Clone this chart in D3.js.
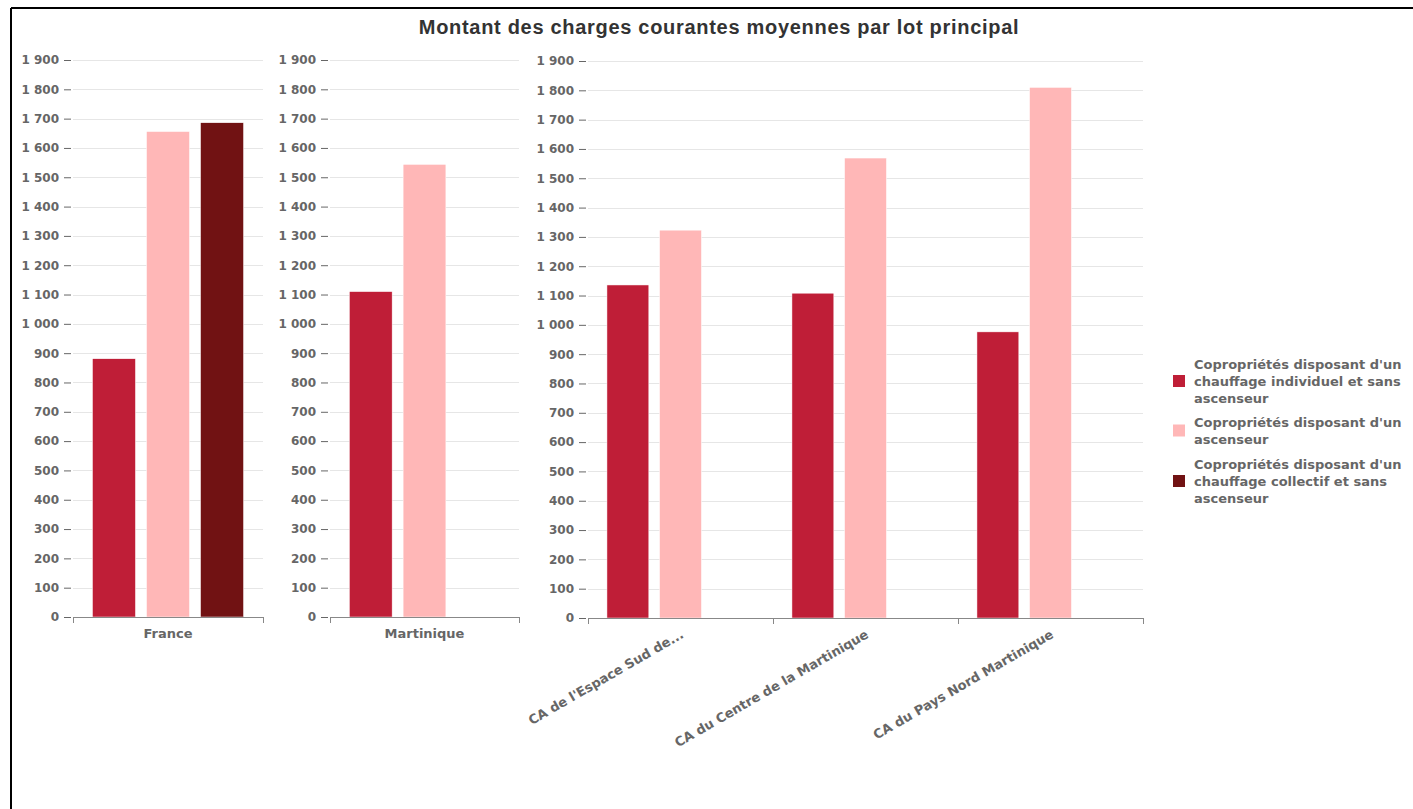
<!DOCTYPE html>
<html><head><meta charset="utf-8">
<script src="https://cdn.jsdelivr.net/npm/d3@7"></script>
<style>
html,body{margin:0;padding:0;background:#fff;}
svg{display:block;font-family:"Liberation Sans",Arial,sans-serif;}
</style></head><body>
<svg id="c" width="1413" height="809"></svg>
<script>
const title = "Montant des charges courantes moyennes par lot principal";
const seriesNames = [
  "Copropriétés disposant d'un chauffage individuel et sans ascenseur",
  "Copropriétés disposant d'un ascenseur",
  "Copropriétés disposant d'un chauffage collectif et sans ascenseur"
];
const seriesColors = ["#bf1e37", "#ffb7b7", "#711213"];
const legendLines = [
  ["Copropriétés disposant d'un", "chauffage individuel et sans", "ascenseur"],
  ["Copropriétés disposant d'un", "ascenseur"],
  ["Copropriétés disposant d'un", "chauffage collectif et sans", "ascenseur"]
];
const panel1Categories = ["France"];
const panel1Values = [[881], [1656], [1686]];
const panel2Categories = ["Martinique"];
const panel2Values = [[1110], [1544], [null]];
const panel3Categories = ["CA de l'Espace Sud de...", "CA du Centre de la Martinique", "CA du Pays Nord Martinique"];
const panel3Values = [[1136, 1108, 976], [1323, 1569, 1810], [null, null, null]];
const yTicks = [0,100,200,300,400,500,600,700,800,900,1000,1100,1200,1300,1400,1500,1600,1700,1800,1900];

const LABEL_FONT = "'DejaVu Sans',Verdana,sans-serif";
const svg = d3.select("#c");
const fmt = v => d3.format(",")(v).replace(/,/g, " ");

svg.append("line").attr("x1",11).attr("x2",1413).attr("y1",8).attr("y2",8).attr("stroke","#000").attr("stroke-width",2);
svg.append("line").attr("x1",11).attr("x2",11).attr("y1",8).attr("y2",809).attr("stroke","#000").attr("stroke-width",2);

svg.append("text").attr("x",719).attr("y",34).attr("text-anchor","middle")
  .attr("font-size",20).attr("letter-spacing",0.7).attr("font-weight","bold").attr("fill","#333").text(title);

const panels = [
  {cats: panel1Categories, vals: panel1Values, x0: 73, x1: 263, y0: 617, y1: 60, rotate: false},
  {cats: panel2Categories, vals: panel2Values, x0: 330, x1: 519, y0: 617, y1: 60, rotate: false},
  {cats: panel3Categories, vals: panel3Values, x0: 588, x1: 1143, y0: 618, y1: 61, rotate: true}
];

panels.forEach(p => {
  const g = svg.append("g");
  const y = d3.scaleLinear().domain([0,1900]).range([p.y0, p.y1]);
  const x = d3.scaleBand().domain(p.cats).range([p.x0, p.x1]).padding(0);
  const xs = d3.scaleBand().domain(d3.range(3)).range([0, x.bandwidth()]).paddingInner(0.204).paddingOuter(0.36);

  g.selectAll("line.grid").data(yTicks.filter(t=>t>0)).join("line")
    .attr("x1",p.x0).attr("x2",p.x1)
    .attr("y1",d=>Math.round(y(d))+0.5).attr("y2",d=>Math.round(y(d))+0.5)
    .attr("stroke","#e6e6e6").attr("stroke-width",1);

  const ya = g.append("g").attr("transform",`translate(${p.x0-2},0)`)
    .call(d3.axisLeft(y).tickValues(yTicks).tickFormat(fmt).tickSize(7).tickPadding(5));
  ya.select(".domain").remove();
  ya.selectAll(".tick line").attr("stroke","#666");
  ya.selectAll(".tick text").attr("fill","#666").attr("font-size",12).attr("font-weight","bold")
    .attr("font-family",LABEL_FONT);

  p.vals.forEach((arr, si) => {
    g.selectAll(null).data(p.cats.map((c,i)=>({c, v: arr[i]})).filter(d=>d.v!=null)).join("rect")
      .attr("x", d => x(d.c) + xs(si))
      .attr("width", xs.bandwidth())
      .attr("y", d => y(d.v))
      .attr("height", d => y(0) - y(d.v))
      .attr("fill", seriesColors[si])
      .attr("stroke","#fff").attr("stroke-width",0.5);
  });

  const xa = g.append("g");
  xa.append("line").attr("x1",p.x0).attr("x2",p.x1).attr("y1",p.y0+0.5).attr("y2",p.y0+0.5).attr("stroke","#888");
  const bounds = p.cats.map(c=>x(c)).concat([p.x1]);
  xa.selectAll("line.t").data(bounds).join("line")
    .attr("x1",d=>Math.round(d)+0.5).attr("x2",d=>Math.round(d)+0.5)
    .attr("y1",p.y0).attr("y2",p.y0+6).attr("stroke","#888");
  p.cats.forEach(c => {
    const cx = x(c) + x.bandwidth()/2;
    const t = xa.append("text").attr("font-size",13).attr("font-weight","bold").attr("fill","#666")
      .attr("font-family",LABEL_FONT).text(c);
    if (!p.rotate) {
      t.attr("x",cx).attr("y",p.y0+21).attr("text-anchor","middle");
    } else {
      t.attr("transform",`translate(${cx+4},${p.y0+19}) rotate(-30)`).attr("text-anchor","end");
    }
  });
});

const legendTop = [364, 422, 464];
legendLines.forEach((lines, i) => {
  const g = svg.append("g");
  const n = lines.length;
  const midY = legendTop[i] + (n-1)*17/2;
  g.append("rect").attr("x",1173).attr("y",midY-6).attr("width",12).attr("height",12).attr("fill",seriesColors[i]);
  lines.forEach((t, j) => {
    g.append("text").attr("x",1194).attr("y",legendTop[i] + j*17 + 5)
      .attr("font-size",13).attr("font-weight","bold").attr("fill","#666")
      .attr("font-family",LABEL_FONT).text(t);
  });
});
</script>
</body></html>
